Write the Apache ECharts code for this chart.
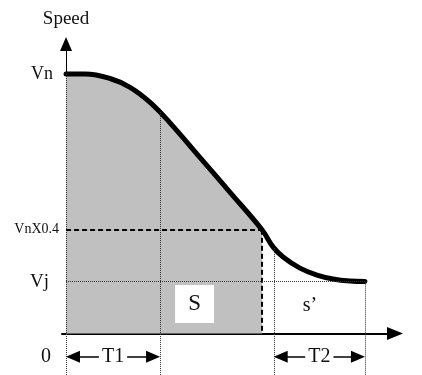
<!DOCTYPE html>
<html lang="en">
<head>
<meta charset="UTF-8">
<title>Speed curve</title>
<script src="https://cdn.jsdelivr.net/npm/echarts@6/dist/echarts.min.js"></script>
<style>html,body{margin:0;padding:0;background:#fff}</style>
</head>
<body>
<div id="main" style="width:422px;height:375px"></div>
<script type="text/javascript">
// speed curve (speed as a fraction of Vn, time in T1 units)
var time  = [0, 0.202, 0.468, 0.681, 0.894, 1.106, 1.426, 1.745, 2.085, 2.202, 2.309, 2.489, 2.67, 2.84, 3.021, 3.18];
var speed = [1.0, 1.0, 0.983, 0.949, 0.891, 0.812, 0.678, 0.544, 0.4, 0.334, 0.295, 0.252, 0.225, 0.21, 0.202, 0.2];

// left side labels
var levelNames  = ['Vn', 'VnX0.4', 'Vj', '0'];
var levelValues = [1.0, 0.4, 0.2, -0.09];

var fillEnd = 2.085;           // time where speed falls to Vn x 0.4
var vjLevel = 0.2;
var x04Level = 0.4;

// dotted verticals (time, curve value there)
var markTime  = [1.0, 2.21, 3.18];
var markSpeed = [0.854, 0.33, 0.2];

// T1 / T2 spans
var periodNames = ['T1', 'T2'];
var periodStart = [0, 2.21];
var periodEnd   = [1.0, 3.18];
var arrowLevel  = -0.09;

// S box and s' label
var boxTime  = [1.16, 1.574];
var boxSpeed = [0.04, 0.187];
var sPrime   = [2.596, 0.106];

var yMin = -0.16, yMax = 1.116;
var font = 'Liberation Serif';
var headInset = 0.074;  // half an arrow head, in time units

var curveData = [], fillData = [];
for (var i = 0; i < time.length; i++) {
    curveData.push([time[i], speed[i]]);
    if (time[i] <= fillEnd) fillData.push([time[i], speed[i]]);
}

var dotted = {color: '#333', width: 1, type: [1, 1]};
var dashed = {color: '#000', width: 2, type: [5, 3]};

var lines = [];
// y axis: dotted part, then solid part with arrow
lines.push([{coord: [0, yMin], symbol: 'none', lineStyle: dotted}, {coord: [0, speed[0]], symbol: 'none'}]);
lines.push([{coord: [0, speed[0]], symbol: 'none', lineStyle: {color: '#000', width: 1, type: 'solid'}},
            {coord: [0, yMax], symbol: 'triangle', symbolSize: [12, 14]}]);
// Vn x 0.4 dashed
lines.push([{coord: [0, x04Level], symbol: 'none', lineStyle: dashed}, {coord: [fillEnd, x04Level], symbol: 'none'}]);
lines.push([{coord: [fillEnd, x04Level], symbol: 'none', lineStyle: dashed}, {coord: [fillEnd, 0], symbol: 'none'}]);
// Vj dotted
lines.push([{coord: [0, vjLevel], symbol: 'none', lineStyle: dotted}, {coord: [time[time.length - 1], vjLevel], symbol: 'none'}]);
for (var k = 0; k < markTime.length; k++) {
    lines.push([{coord: [markTime[k], markSpeed[k]], symbol: 'none', lineStyle: dotted}, {coord: [markTime[k], yMin], symbol: 'none'}]);
}
for (var p = 0; p < periodNames.length; p++) {
    lines.push([
        {coord: [periodStart[p] + headInset, arrowLevel], symbol: 'triangle', symbolSize: [12, 14],
         lineStyle: {color: '#000', width: 1.5, type: 'solid'},
         label: {show: true, position: 'insideMiddle', formatter: periodNames[p], fontFamily: font,
                 fontSize: 20, color: '#111', backgroundColor: '#fff', padding: [0, 3]}},
        {coord: [periodEnd[p] - headInset, arrowLevel], symbol: 'triangle', symbolSize: [12, 14]}
    ]);
}

var richStyles = {
    a: {fontFamily: font, fontSize: 18, color: '#111', padding: [0, 9, 0, 0]},
    b: {fontFamily: font, fontSize: 14, color: '#111', padding: [0, 3, 0, 0]},
    c: {fontFamily: font, fontSize: 19, color: '#111', padding: [0, 13, 0, 0]},
    d: {fontFamily: font, fontSize: 20, color: '#111', padding: [0, 11, 0, 0]}
};
var richKeys = ['a', 'b', 'c', 'd'];

var chart = echarts.init(document.getElementById('main'));
chart.setOption({
    animation: false,
    textStyle: {fontFamily: font},
    grid: {left: 62, right: 27, top: 44, bottom: 0, containLabel: false},
    xAxis: {
        type: 'value', min: -0.043, max: 3.5,
        axisLine: {show: true, onZero: true, symbol: ['none', 'triangle'], symbolSize: [13, 16],
                   lineStyle: {color: '#000', width: 2}},
        axisTick: {show: false}, axisLabel: {show: false}, splitLine: {show: false}
    },
    yAxis: {
        type: 'value', min: yMin, max: yMax,
        name: 'Speed', nameLocation: 'end', nameGap: 15,
        nameTextStyle: {fontFamily: font, fontSize: 19, color: '#111'},
        axisLine: {show: false, onZero: true}, axisTick: {show: false}, splitLine: {show: false},
        axisLabel: {
            customValues: levelValues, margin: 0,
            formatter: function (v) {
                var best = 0;
                for (var j = 0; j < levelValues.length; j++) {
                    if (Math.abs(levelValues[j] - v) < Math.abs(levelValues[best] - v)) best = j;
                }
                return '{' + richKeys[best] + '|' + levelNames[best] + '}';
            },
            rich: richStyles
        }
    },
    series: [{
        type: 'line', data: fillData, smooth: 0.4, symbol: 'none', silent: true, z: 1,
        lineStyle: {width: 0}, areaStyle: {color: '#c0c0c0', opacity: 1},
        markArea: {
            silent: true, z: 3,
            itemStyle: {color: '#fff'},
            label: {show: true, position: 'inside', formatter: 'S', fontFamily: font, fontSize: 23, color: '#111'},
            data: [[{coord: [boxTime[0], boxSpeed[1]]}, {coord: [boxTime[1], boxSpeed[0]]}]]
        }
    }, {
        type: 'line', data: curveData, smooth: 0.4, symbol: 'none', silent: true, z: 4,
        color: '#000',
        lineStyle: {color: '#000', width: 5, cap: 'round'},
        markLine: {
            silent: true, symbol: ['none', 'none'], animation: false,
            label: {show: false},
            data: lines
        },
        markPoint: {
            silent: true, symbol: 'circle', symbolSize: 1,
            itemStyle: {color: 'rgba(0,0,0,0)'},
            label: {show: true, position: 'inside', formatter: 's\u2019', fontFamily: font, fontSize: 20, color: '#111'},
            data: [{coord: sPrime}]
        }
    }]
});
</script>
</body>
</html>
